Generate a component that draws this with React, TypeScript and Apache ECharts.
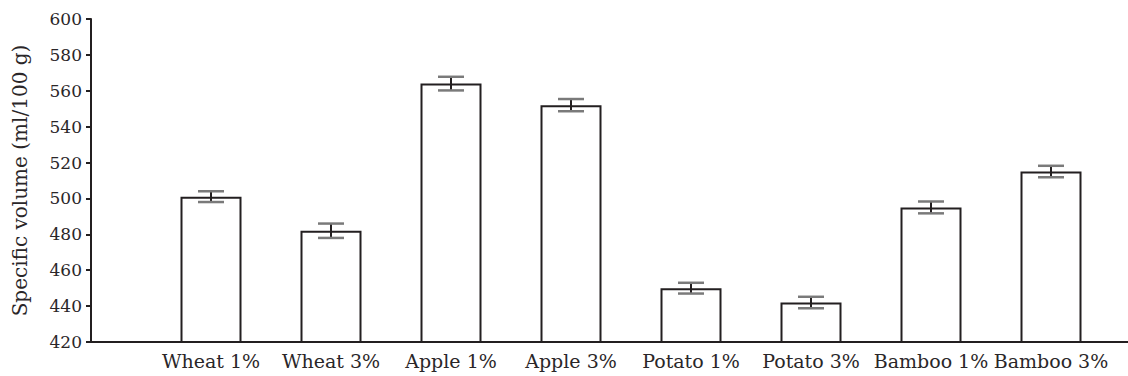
import React, { useEffect, useRef } from "react";
import * as echarts from "echarts";

const categories = ["Wheat 1%", "Wheat 3%", "Apple 1%", "Apple 3%", "Potato 1%", "Potato 3%", "Bamboo 1%", "Bamboo 3%"];
const values = [501, 482, 564, 552, 450, 442, 495, 515];
const errors = [3, 4, 3.8, 3.4, 3, 3.2, 3.3, 3.2];
const yTicks = { min: 420, max: 600, interval: 20 };

export default function App() {
  const ref = useRef<HTMLDivElement>(null);
  useEffect(() => {
    if (!ref.current) return;
    const chart = echarts.init(ref.current, undefined, { renderer: "svg" });
    const barData = values.map((v, i) => [i + 1, v]);
    const errData = values.map((v, i) => [i + 1, v, errors[i]]);
    const font = "DejaVu Serif";
    const textColor = "#2a2628";
    chart.setOption({
      animation: false,
      backgroundColor: "#ffffff",
      grid: { left: 91, top: 19, bottom: 34, right: 0, containLabel: false },
      xAxis: {
        type: "value",
        min: 0,
        max: (1128 - 91) / 120,
        interval: 1,
        splitLine: { show: false },
        axisLine: { show: true, onZero: false, lineStyle: { color: "#231f20", width: 2 } },
        axisTick: { show: true, inside: true, length: 4, lineStyle: { color: "#231f20", width: 2 } },
        axisLabel: {
          margin: 9,
          fontFamily: font,
          fontSize: 19,
          color: textColor,
          showMaxLabel: false,
          formatter: (v: number) => (v >= 1 && v <= categories.length ? categories[v - 1] : ""),
        },
      },
      yAxis: {
        type: "value",
        min: yTicks.min,
        max: yTicks.max,
        interval: yTicks.interval,
        splitLine: { show: false },
        axisLine: { show: true, lineStyle: { color: "#231f20", width: 2 } },
        axisTick: { show: true, length: 5, lineStyle: { color: "#231f20", width: 2 } },
        axisLabel: { margin: 9, fontFamily: font, fontSize: 17, color: textColor },
        name: "Specific volume (ml/100 g)",
        nameLocation: "middle",
        nameGap: 61,
        nameTextStyle: { fontFamily: font, fontSize: 20, color: textColor },
      },
      series: [
        {
          type: "bar",
          data: barData,
          barWidth: 61,
          itemStyle: { color: "#ffffff", borderColor: "#231f20", borderWidth: 2 },
          z: 2,
        },
        {
          type: "custom",
          data: errData,
          z: 3,
          renderItem: (params: any, api: any) => {
            const x = api.value(0);
            const v = api.value(1);
            const e = api.value(2);
            const top = api.coord([x, v + e]);
            const bot = api.coord([x, v - e]);
            const hw = 13;
            return {
              type: "group",
              children: [
                {
                  type: "line",
                  shape: { x1: top[0], y1: top[1], x2: bot[0], y2: bot[1] },
                  style: { stroke: "#231f20", lineWidth: 2 },
                },
                {
                  type: "line",
                  shape: { x1: top[0] - hw, y1: top[1], x2: top[0] + hw, y2: top[1] },
                  style: { stroke: "#7a7a7a", lineWidth: 2.5 },
                },
                {
                  type: "line",
                  shape: { x1: bot[0] - hw, y1: bot[1], x2: bot[0] + hw, y2: bot[1] },
                  style: { stroke: "#7a7a7a", lineWidth: 2.5 },
                },
              ],
            };
          },
        },
      ],
    });
    return () => chart.dispose();
  }, []);
  return <div ref={ref} style={{ position: "fixed", left: 0, top: 0, width: 1128, height: 376 }} />;
}
